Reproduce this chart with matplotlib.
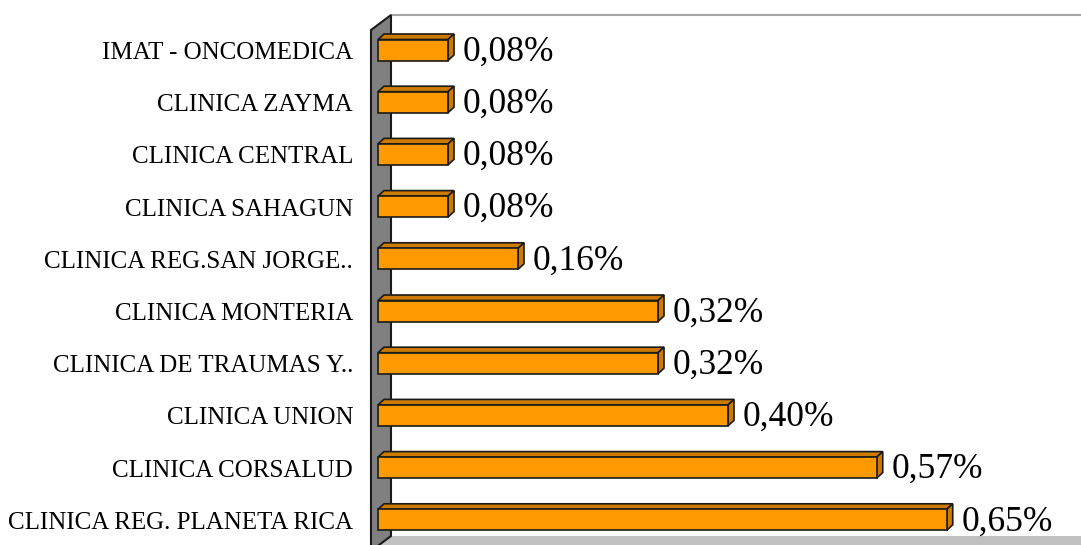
import matplotlib
matplotlib.use("Agg")
import matplotlib.pyplot as plt
from matplotlib.patches import Polygon, Rectangle

# Datos (de arriba hacia abajo)
clinicas = ["IMAT - ONCOMEDICA", "CLINICA ZAYMA", "CLINICA CENTRAL", "CLINICA SAHAGUN",
            "CLINICA REG.SAN JORGE..", "CLINICA MONTERIA", "CLINICA DE TRAUMAS Y..",
            "CLINICA UNION", "CLINICA CORSALUD", "CLINICA REG. PLANETA RICA"]
porcentajes = [0.08, 0.08, 0.08, 0.08, 0.16, 0.32, 0.32, 0.40, 0.57, 0.65]

W, H = 1081, 545
PX_X = 875.0     # pixeles por unidad (eje x)
PX_Y = 52.2      # pixeles por fila
X0, Y0 = 378, 50  # pixel del valor 0 y centro de la primera fila

def px(x, y):
    # pixel -> coordenadas de datos
    return ((x - X0) / PX_X, (y - Y0) / PX_Y)

fig = plt.figure(figsize=(W / 100, H / 100), dpi=100)
ax = fig.add_axes([0, 0, 1, 1])
ax.set_xlim(px(0, 0)[0], px(W, 0)[0])
ax.set_ylim(px(0, H)[1], px(0, 0)[1])
ax.axis("off")

FONT = "Liberation Serif"

# pared del fondo y piso
ax.add_patch(Polygon([px(391, 15), px(1200, 15), px(1200, 535), px(391, 535)],
                     closed=True, facecolor="white", edgecolor="none", zorder=0))
ax.plot([px(391, 15)[0], px(W, 15)[0]], [px(391, 15)[1]] * 2, color="#a6a6a6", lw=1.5, zorder=1)
ax.add_patch(Polygon([px(391, 536), px(1200, 536), px(1200, 560), px(371, 560), px(371, 551)],
                     closed=True, facecolor="#c0c0c0", edgecolor="none", zorder=1))

# pared lateral izquierda
ax.add_patch(Polygon([px(371, 30), px(391, 15), px(391, 536), px(371, 551)],
                     closed=True, facecolor="#808080", edgecolor="#1a1a1a", lw=1.5, zorder=2))

# barras 3D
h = 10.5 / PX_Y
dx = 6 / PX_X
dy = 5.5 / PX_Y
for i, (nombre, v) in enumerate(zip(clinicas, porcentajes)):
    top, bot = i - h, i + h
    ax.add_patch(Polygon([(0, top), (v, top), (v + dx, top - dy), (dx, top - dy)],
                         closed=True, facecolor="#cc7a00", edgecolor="#1a1a1a", lw=1.2, zorder=3))
    ax.add_patch(Polygon([(v, top), (v + dx, top - dy), (v + dx, bot - dy), (v, bot)],
                         closed=True, facecolor="#cc7a00", edgecolor="#1a1a1a", lw=1.2, zorder=3))
    ax.add_patch(Rectangle((0, top), v, 2 * h, facecolor="#ff9900",
                           edgecolor="#1a1a1a", lw=1.2, zorder=4))
    etiqueta = f"{v:.2f}%".replace(".", ",")
    ax.text(v + 15 / PX_X, i + 2 / PX_Y, etiqueta, ha="left", va="center",
            fontsize=25.5, family=FONT, color="black", zorder=5)
    ax.text(px(353, 0)[0], i + 3 / PX_Y, nombre, ha="right", va="center",
            fontsize=18, family=FONT, color="black", zorder=5)

fig.savefig("out.png", dpi=100)
